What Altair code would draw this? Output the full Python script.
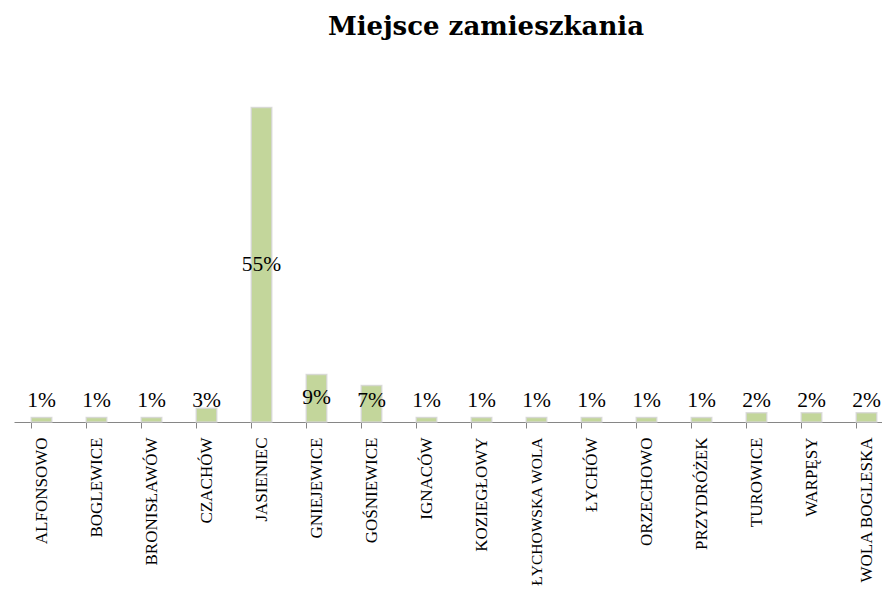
import altair as alt
import pandas as pd

categories = ["ALFONSOWO", "BOGLEWICE", "BRONISŁAWÓW", "CZACHÓW", "JASIENIEC",
              "GNIEJEWICE", "GOŚNIEWICE", "IGNACÓW", "KOZIEGŁOWY", "ŁYCHOWSKA WOLA",
              "ŁYCHÓW", "ORZECHOWO", "PRZYDRÓŻEK", "TUROWICE", "WARPĘSY", "WOLA BOGLESKA"]
values = [0.8, 0.8, 0.8, 2.4, 55.0, 8.3, 6.4, 0.8, 0.8, 0.8, 0.8, 0.8, 0.8, 1.6, 1.6, 1.6]
labels = ["1%", "1%", "1%", "3%", "55%", "9%", "7%", "1%", "1%", "1%", "1%", "1%",
          "1%", "2%", "2%", "2%"]

df = pd.DataFrame({"cat": categories, "v": values, "lab": labels})

xscale = alt.Scale(domain=categories, range=[0, 880], paddingInner=0.63, paddingOuter=0.315)
yscale = alt.Scale(domain=[0, 60], nice=False)

x = alt.X("cat:N", sort=categories, scale=xscale, title=None,
          axis=alt.Axis(labelAngle=-90, labelFont="Liberation Serif",
                        labelFontSize={"expr": "length(datum.label) > 13 ? 15.5 : 17"},
                        labelColor="#000000", labelPadding=9, tickSize=6,
                        tickColor="#868686", domainColor="#868686", labelLimit=0,
                        bandPosition=0, ticks=True, grid=False))

base = alt.Chart(df)

bars = base.mark_bar(color="#c3d69b", width=20.5, stroke="#d4d4d4",
                     strokeWidth=1.5, strokeOpacity=0.8).encode(
    x=x,
    y=alt.Y("v:Q", scale=yscale, axis=None),
)

text = base.transform_calculate(
    ypos="max(datum.v / 2, 3.7)"
).mark_text(font="Liberation Serif", fontSize=21.5, color="#000000",
            baseline="middle", align="center").encode(
    x=alt.X("cat:N", sort=categories, scale=xscale),
    y=alt.Y("ypos:Q", scale=yscale),
    text="lab:N",
)

chart = (bars + text).properties(
    width=868, height=343,
    padding={"left": 6, "top": 71, "right": 0, "bottom": 166},
    autosize=alt.AutoSizeParams(type="none"),
    title=alt.TitleParams("Miejsce zamieszkania", font="DejaVu Serif", fontSize=26,
                          fontWeight="bold", color="#000000", anchor="middle",
                          dx=38, offset=39),
).configure(background="white").configure_view(stroke=None)

chart.save("out.html", embed_options={"renderer": "svg", "actions": False})
